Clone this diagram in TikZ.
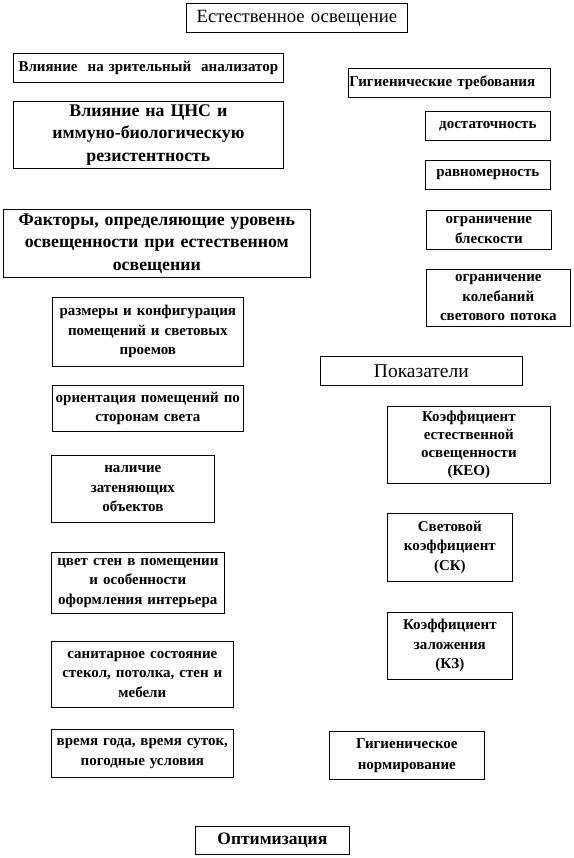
\documentclass[tikz,border=0pt]{standalone}
\usepackage{fontspec}
\setmainfont{Liberation Serif}
\tikzset{
  box/.style={draw, line width=0.7pt, align=center, inner xsep=0pt, inner ysep=1pt, anchor=north west, font=\fontsize{15}{19.5}\selectfont\bfseries},
  bigbox/.style={box, font=\fontsize{17.8}{22.5}\selectfont\bfseries},
  headbox/.style={box, font=\fontsize{18.7}{20}\selectfont}
}

\begin{document}
\begin{tikzpicture}[x=1pt, y=-1pt]
\useasboundingbox (0,0) rectangle (573,858);

% top
\node[headbox, text width=221pt, minimum height=29pt] (title) at (186,3) {Естественное освещение};

% left column
\node[box, text width=270pt, minimum height=29pt] (zrit) at (13,53) {Влияние~ на зрительный~ анализатор};
\node[bigbox, text width=270pt, minimum height=67pt] (cns) at (13,101) {Влияние на ЦНС и\\иммуно-биологическую\\резистентность};
\node[bigbox, text width=307pt, minimum height=68pt] (faktory) at (3,209) {Факторы, определяющие уровень\\освещенности при естественном\\освещении};
\node[box, text width=191pt, minimum height=69pt] (razmery) at (52,297) {размеры и конфигурация\\помещений и световых\\проемов};
\node[box, text width=191pt, minimum height=46pt] (orient) at (52,385) {ориентация помещений по\\сторонам света};
\node[box, text width=163pt, minimum height=67pt] (zatenen) at (51,455) {наличие\\затеняющих\\объектов};
\node[box, text width=173pt, minimum height=61pt] (tsvet) at (51,552) {цвет стен в помещении\\и особенности\\оформления интерьера};
\node[box, text width=182pt, minimum height=66pt] (sanitar) at (51,641) {санитарное состояние\\стекол, потолка, стен и\\мебели};
\node[box, text width=182pt, minimum height=48pt] (vremya) at (51,729) {время года, время суток,\\погодные условия};

% right column
\node[box, text width=202pt, minimum height=29pt, align=left] (trebov) at (348,68) {\hspace*{1pt}Гигиенические требования};
\node[box, text width=125pt, minimum height=29pt] (dostat) at (425,111) {достаточность};
\node[box, text width=125pt, minimum height=29pt] (ravnom) at (425,160) {равномерность};
\node[box, text width=125pt, minimum height=39pt] (blesk) at (426,210) {ограничение\\блескости};
\node[box, text width=144pt, minimum height=57pt] (koleb) at (426,269) {ограничение\\колебаний\\светового потока};
\node[headbox, text width=202pt, minimum height=29pt, font=\fontsize{19.5}{20}\selectfont] (pokaz) at (320,356) {Показатели};
\node[box, text width=163pt, minimum height=77pt, font=\fontsize{15}{18}\selectfont\bfseries] (keo) at (387,406) {Коэффициент\\естественной\\освещенности\\(КЕО)};
\node[box, text width=125pt, minimum height=68pt] (sk) at (387,513) {Световой\\коэффициент\\(СК)};
\node[box, text width=125pt, minimum height=67pt] (kz) at (387,612) {Коэффициент\\заложения\\(КЗ)};
\node[box, text width=155pt, minimum height=48pt, font=\fontsize{15}{21}\selectfont\bfseries] (norm) at (329,731) {Гигиеническое\\нормирование};

% bottom
\node[box, text width=154pt, minimum height=28pt, font=\fontsize{17.5}{20}\selectfont\bfseries] (optim) at (195,826) {Оптимизация};
\end{tikzpicture}
\end{document}
